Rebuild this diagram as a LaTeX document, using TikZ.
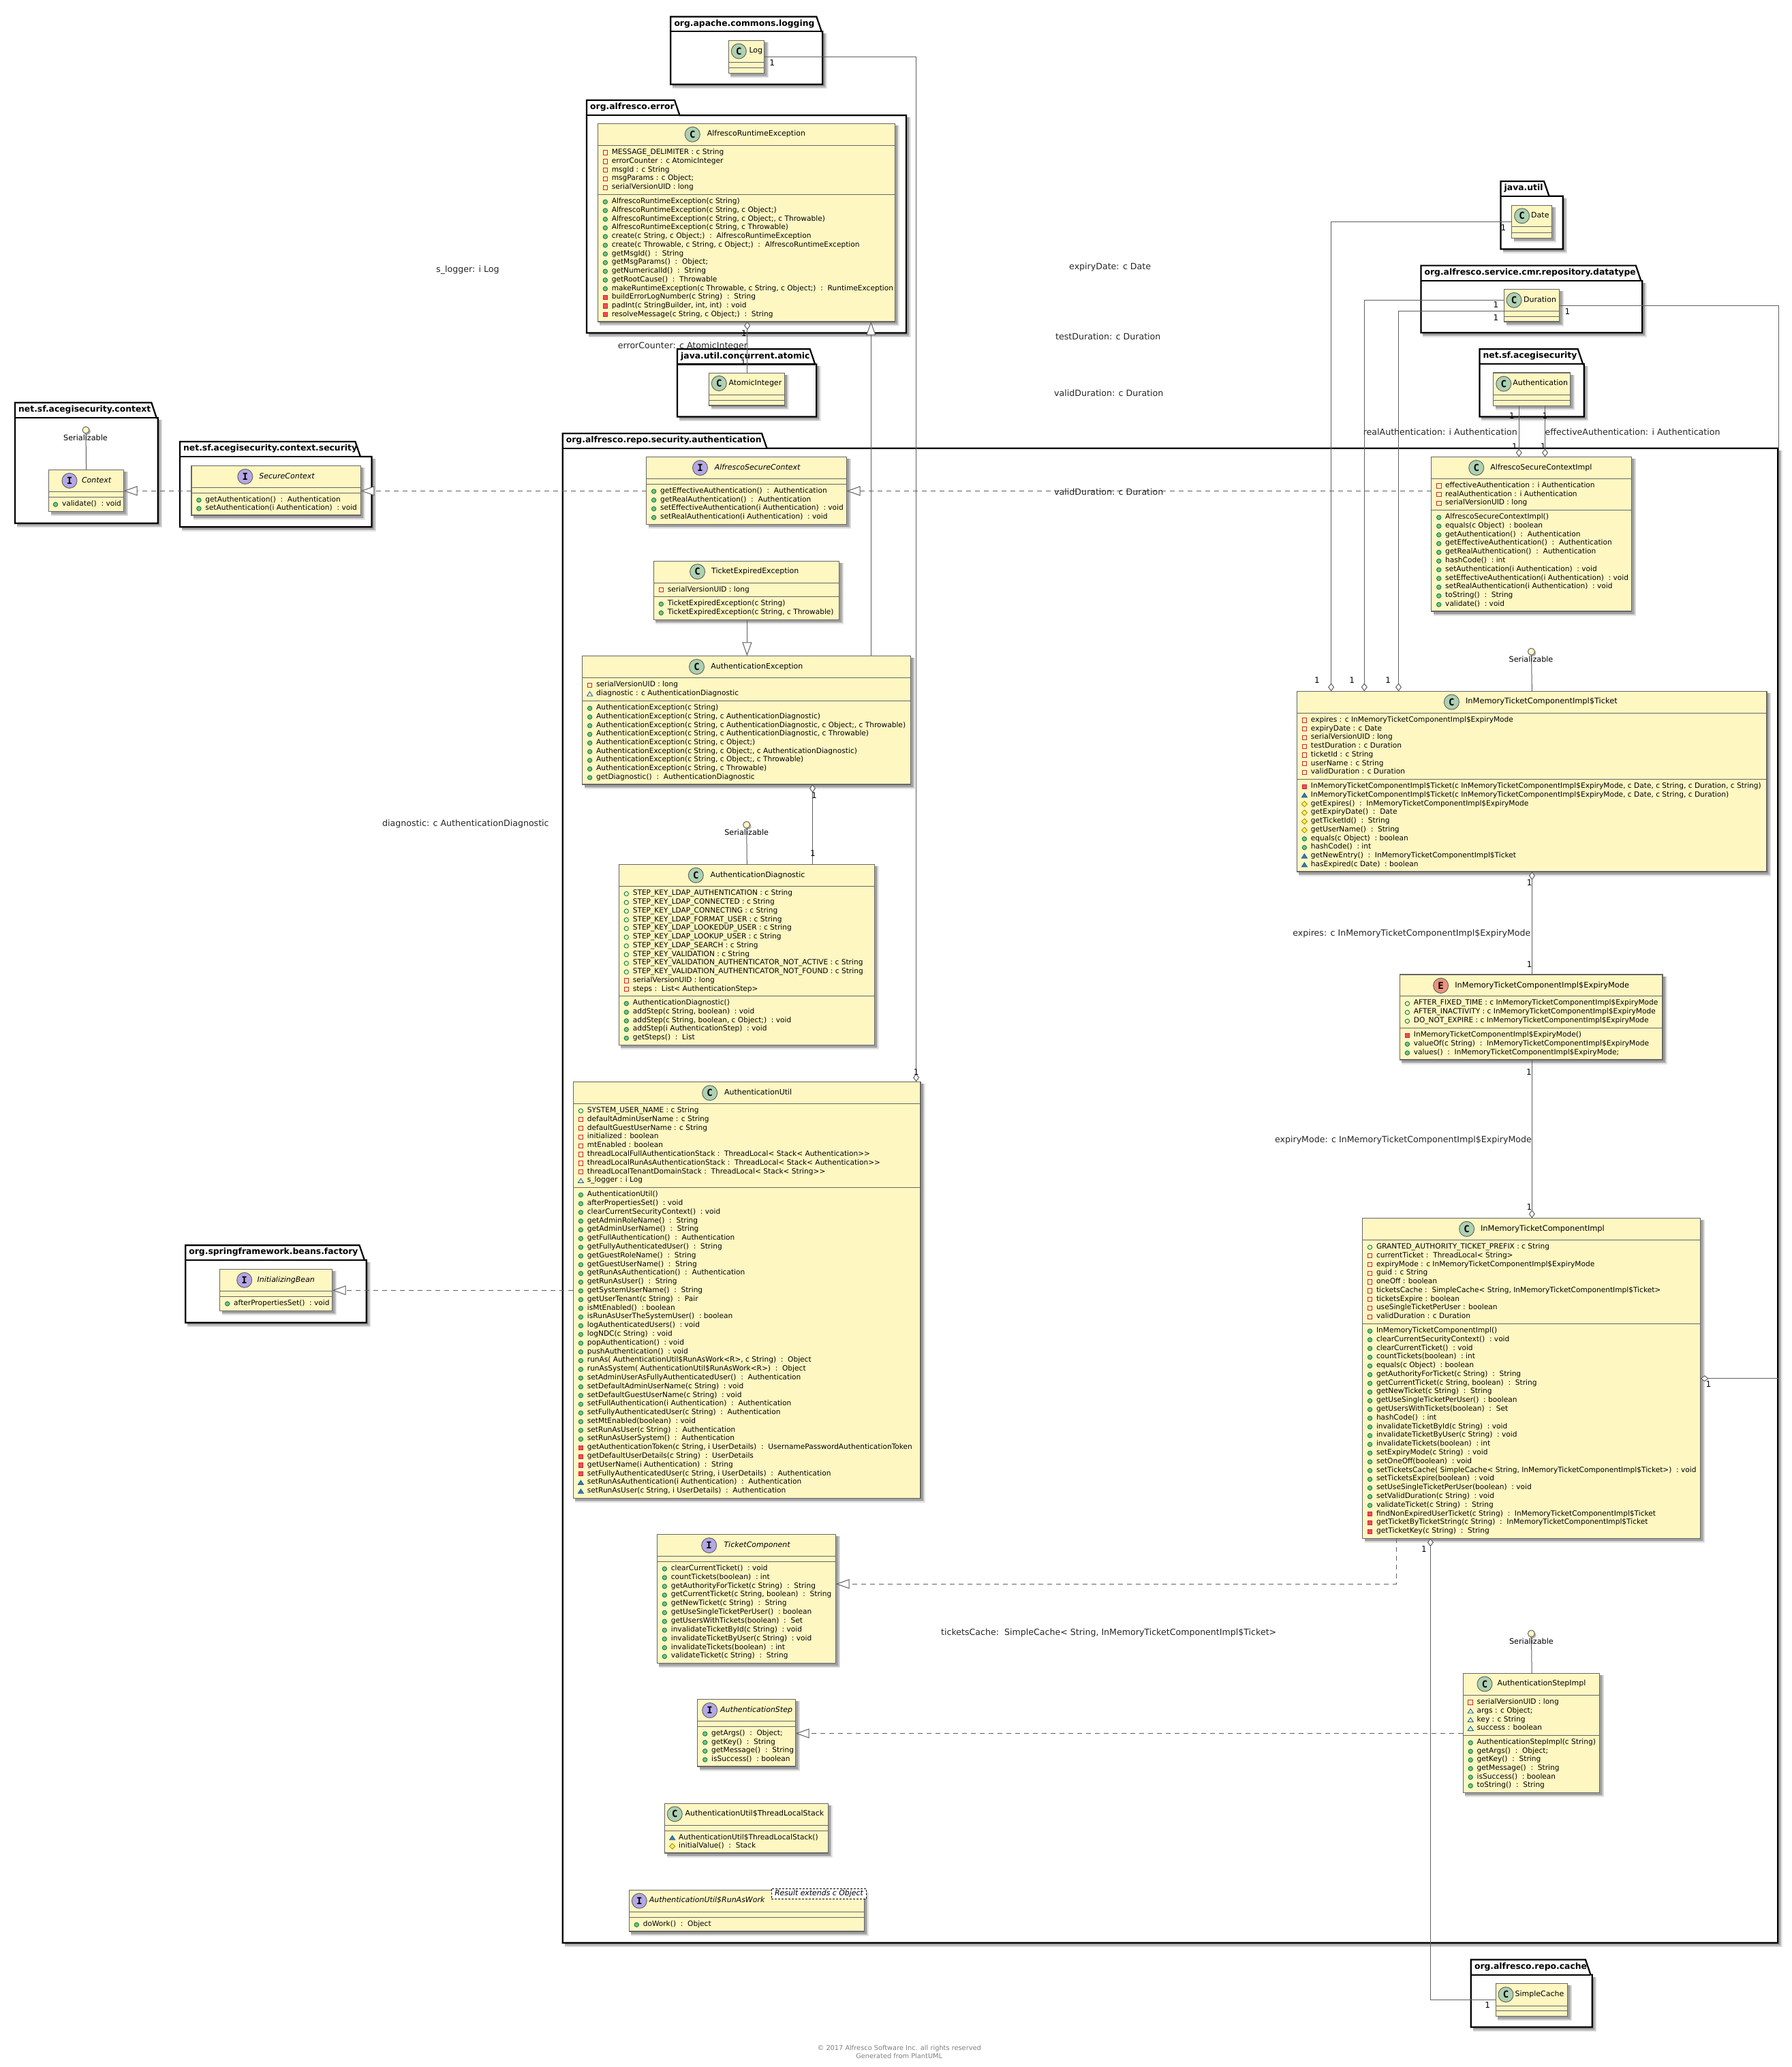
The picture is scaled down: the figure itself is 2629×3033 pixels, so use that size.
\documentclass[tikz,border=0pt]{standalone}
\usepackage{fontspec}
\setmainfont{DejaVu Sans}
\newfontfamily\spotfont{DejaVu Sans Mono}
\usetikzlibrary{arrows.meta}
\definecolor{boxfill}{HTML}{FEF7C2}
\definecolor{boxline}{HTML}{666666}
\definecolor{linegray}{HTML}{5F5F5F}
\definecolor{spotC}{HTML}{ADD1B2}
\definecolor{spotI}{HTML}{B4A7E5}
\definecolor{spotE}{HTML}{EB937F}
\definecolor{icred}{HTML}{C82930}
\definecolor{icredf}{HTML}{F24D5C}
\definecolor{icgreen}{HTML}{038048}
\definecolor{icgreenf}{HTML}{84BE84}
\definecolor{icblue}{HTML}{1963A0}
\definecolor{icbluef}{HTML}{4177AF}
\definecolor{icyel}{HTML}{B38D22}
\definecolor{icyelf}{HTML}{FFFF44}
\newcommand\rowfont{\fontsize{10.6}{12}\selectfont}
\newcommand\titlefont{\fontsize{11}{13}\selectfont}
\newcommand\memfont{\fontsize{11.4}{13}\selectfont}
\newcommand\lblfont{\fontsize{12.6}{14}\selectfont}
\tikzset{
  aggr/.tip={Diamond[length=12pt,width=9pt,fill=white,line width=1pt]},
  gener/.tip={Triangle[length=20pt,width=14pt,fill=white,line width=1pt]},
  assoc/.style={draw=linegray,line width=1pt},
  realz/.style={draw=linegray,line width=1pt,dash pattern=on 7pt off 6pt},
  classbox/.style={draw=boxline,fill=boxfill,line width=1.3pt,inner sep=0,outer sep=0},
  rowtxt/.style={anchor=mid west,inner sep=0,font=\rowfont,text=black},
  titletxt/.style={anchor=mid west,inner sep=0,font=\titlefont,text=black},
  lbl/.style={inner sep=0,font=\lblfont,text=black!85},
  mult/.style={inner sep=0,font=\fontsize{12}{14}\selectfont,text=black},
  serlbl/.style={inner sep=0,font=\fontsize{11.2}{13}\selectfont,text=black},
  lolli/.style={circle,draw=boxline,fill=boxfill,line width=1pt,minimum size=10pt,inner sep=0},
  spot/.style={circle,draw=boxline,line width=1pt,minimum size=22pt,inner sep=0,font=\spotfont\bfseries\fontsize{14}{14}\selectfont},
  pkgline/.style={draw=black,line width=2.2pt,line join=miter},
  pkgtxt/.style={anchor=mid west,inner sep=0,font=\bfseries\fontsize{12.35}{14}\selectfont,text=black},
  foot/.style={inner sep=0,font=\fontsize{9.8}{11}\selectfont,text=black!50},
}
\newcount\rowc
\newcommand\softshadow[4]{%
  \fill[black,opacity=.10] (#1+3,#2+3) rectangle (#3+6.5,#4+6.5);
  \fill[black,opacity=.14] (#1+3,#2+3) rectangle (#3+5,#4+5);
  \fill[black,opacity=.18] (#1+3,#2+3) rectangle (#3+3.5,#4+3.5);
}
% name x1 top tabR bodyTop x2 bottom text
\newcommand\umlpkg[8]{%
  \softshadow{#2}{#5}{#6}{#7}
  \draw[pkgline,fill=white] (#2,#3) -- (#4,#3) -- (#4+7.5,#5) -- (#6,#5) -- (#6,#7) -- (#2,#7) -- cycle;
  \draw[pkgline] (#2,#5) -- (#4+7.5,#5);
  \node[pkgtxt,name=#1] at (#2+5,#3/2+#5/2) {#8};
}
% name x1 y1 x2 y2 hdr div
\newcommand\umlbox[7]{%
  \softshadow{#2}{#3}{#4}{#5}
  \pgfmathsetmacro\bw{#4-#2}\pgfmathsetmacro\bh{#5-#3}
  \node[classbox,minimum width=\bw pt,minimum height=\bh pt,name=#1] at (#2/2+#4/2,#3/2+#5/2) {};
  \draw[draw=boxline,line width=1pt] (#2,#6) -- (#4,#6) (#2,#7) -- (#4,#7);
}
% name letter colour cx cy tx title
\newcommand\umlhead[7]{%
  \node[spot,fill=#3,name=#1-spot] at (#4,#5) {#2};
  \node[titletxt,name=#1-title] at (#6,#5) {#7};
}
\newcommand\startrows[4]{\pgfmathsetmacro\rowP{(#3-#2-8)/#4}\pgfmathsetmacro\rowY{#2+4+\rowP/2}\def\rowX{#1}}
\newcommand\txtrow[1]{\global\advance\rowc by 1
  \node[rowtxt,name=row\the\rowc] at (\rowX+20.3,\rowY) {#1};
  \pgfmathsetmacro\rowY{\rowY+\rowP}}
\newcommand\Fpri[1]{\draw[icred,line width=.9pt] (\rowX+7.7,\rowY-2.9) rectangle (\rowX+14.3,\rowY+3.4); \txtrow{#1}}
\newcommand\Mpri[1]{\draw[icred,fill=icredf,line width=.9pt] (\rowX+7.7,\rowY-2.9) rectangle (\rowX+14.3,\rowY+3.4); \txtrow{#1}}
\newcommand\Fpub[1]{\draw[icgreen,line width=.9pt] (\rowX+11,\rowY+.4) circle (3.2); \txtrow{#1}}
\newcommand\Mpub[1]{\draw[icgreen,fill=icgreenf,line width=.9pt] (\rowX+11,\rowY+.4) circle (3.2); \txtrow{#1}}
\newcommand\Fpkg[1]{\draw[icblue,line width=.9pt] (\rowX+7,\rowY+3.2) -- (\rowX+15,\rowY+3.2) -- (\rowX+11,\rowY-3) -- cycle; \txtrow{#1}}
\newcommand\Mpkg[1]{\draw[icblue,fill=icbluef,line width=.9pt] (\rowX+7,\rowY+3.2) -- (\rowX+15,\rowY+3.2) -- (\rowX+11,\rowY-3) -- cycle; \txtrow{#1}}
\newcommand\Mpro[1]{\draw[icyel,fill=icyelf,line width=.9pt] (\rowX+7,\rowY+.3) -- (\rowX+11,\rowY-3.7) -- (\rowX+15,\rowY+.3) -- (\rowX+11,\rowY+4.3) -- cycle; \txtrow{#1}}
\newcommand\Rt{\ \ :\ \ }
\newcommand\Cl[1]{\ \ :\ #1}
\begin{document}
\begin{tikzpicture}[x=1pt,y=-1pt]
\useasboundingbox (0,0) rectangle (2629,3033);
\fill[white] (0,0) rectangle (2629,3033);
% ---------- packages
\umlpkg{pLog}{984.3}{24.5}{1198.3}{46.2}{1207.3}{123.7}{org.apache.commons.logging}
\umlpkg{pErr}{861}{147}{990}{169.2}{1330}{488.5}{org.alfresco.error}
\umlpkg{pAtom}{994}{512.3}{1188.7}{534.4}{1198.3}{611.5}{java.util.concurrent.atomic}
\umlpkg{pCtx}{22}{590.7}{222.3}{613.3}{231.7}{767.7}{net.sf.acegisecurity.context}
\umlpkg{pSec}{264}{648}{521.4}{670}{545.5}{773.3}{net.sf.acegisecurity.context.security}
\umlpkg{pAuth}{825.7}{636}{1118}{657.7}{2609.3}{2850.7}{org.alfresco.repo.security.authentication}
\umlpkg{pUtil}{2202.5}{265.9}{2266}{287.8}{2293.8}{365.4}{java.util}
\umlpkg{pDt}{2085.4}{389.6}{2400.8}{411.9}{2410.3}{488.2}{org.alfresco.service.cmr.repository.datatype}
\umlpkg{pAce}{2171.4}{512.3}{2315.7}{534.2}{2324.8}{611.4}{net.sf.acegisecurity}
\umlpkg{pCache}{2158.8}{2875.4}{2326.9}{2897.6}{2336.8}{2974.5}{org.alfresco.repo.cache}
\umlpkg{pSpring}{272.2}{1827.3}{527.5}{1849}{537.8}{1940.7}{org.springframework.beans.factory}
% ---------- classes
\umlbox{Log}{1069.3}{59.3}{1121.7}{107.5}{91.7}{99.6}
\umlhead{Log}{C}{spotC}{1084.3}{75.1}{1099.3}{Log}

\umlbox{ARE}{877.3}{181.4}{1313.3}{471.9}{213.4}{285.4}
\umlhead{ARE}{C}{spotC}{1016.3}{197.2}{1037.7}{AlfrescoRuntimeException}
\startrows{877.3}{213.4}{285.4}{5}
\Fpri{MESSAGE\_DELIMITER : c String}
\Fpri{errorCounter : c AtomicInteger}
\Fpri{msgId : c String}
\Fpri{msgParams : c Object;}
\Fpri{serialVersionUID : long}
\startrows{877.3}{285.4}{471.9}{14}
\Mpub{AlfrescoRuntimeException(c String)}
\Mpub{AlfrescoRuntimeException(c String, c Object;)}
\Mpub{AlfrescoRuntimeException(c String, c Object;, c Throwable)}
\Mpub{AlfrescoRuntimeException(c String, c Throwable)}
\Mpub{create(c String, c Object;)\Rt AlfrescoRuntimeException}
\Mpub{create(c Throwable, c String, c Object;)\Rt AlfrescoRuntimeException}
\Mpub{getMsgId()\Rt String}
\Mpub{getMsgParams()\Rt Object;}
\Mpub{getNumericalId()\Rt String}
\Mpub{getRootCause()\Rt Throwable}
\Mpub{makeRuntimeException(c Throwable, c String, c Object;)\Rt RuntimeException}
\Mpri{buildErrorLogNumber(c String)\Rt String}
\Mpri{padInt(c StringBuilder, int, int)\Cl{void}}
\Mpri{resolveMessage(c String, c Object;)\Rt String}

\umlbox{Atomic}{1040.7}{547.4}{1151.3}{594.9}{579}{587.4}
\umlhead{Atomic}{C}{spotC}{1055.3}{562.5}{1069.3}{AtomicInteger}

\umlbox{Context}{71.7}{689.3}{181.5}{750.7}{721.7}{729}
\umlhead{Context}{I}{spotI}{102}{705.3}{119.8}{\itshape Context}
\startrows{70.5}{729}{750.7}{1}
\Mpub{validate()\Cl{void}}

\umlbox{SecCtx}{280.9}{683.3}{529.3}{756}{715.3}{723.3}
\umlhead{SecCtx}{I}{spotI}{359.8}{699.3}{380.2}{\itshape SecureContext}
\startrows{280.9}{723.3}{756}{2}
\Mpub{getAuthentication()\Rt Authentication}
\Mpub{setAuthentication(i Authentication)\Cl{void}}

\umlbox{ASC}{948.6}{670.2}{1242.5}{769.4}{702.4}{710.2}
\umlhead{ASC}{I}{spotI}{1027.5}{686.5}{1048.6}{\itshape AlfrescoSecureContext}
\startrows{948.6}{710.2}{769.4}{4}
\Mpub{getEffectiveAuthentication()\Rt Authentication}
\Mpub{getRealAuthentication()\Rt Authentication}
\Mpub{setEffectiveAuthentication(i Authentication)\Cl{void}}
\Mpub{setRealAuthentication(i Authentication)\Cl{void}}

\umlbox{TEE}{959.3}{823.3}{1231.8}{909.4}{855.5}{875.5}
\umlhead{TEE}{C}{spotC}{1023.6}{838.8}{1044}{TicketExpiredException}
\startrows{959.3}{855.5}{875.5}{1}
\Fpri{serialVersionUID : long}
\startrows{959.3}{875.5}{909.4}{2}
\Mpub{TicketExpiredException(c String)}
\Mpub{TicketExpiredException(c String, c Throwable)}

\umlbox{AuthEx}{854.6}{962.4}{1336.8}{1151}{994.3}{1028.6}
\umlhead{AuthEx}{C}{spotC}{1022.5}{978.4}{1043.2}{AuthenticationException}
\startrows{854.6}{994.3}{1028.6}{2}
\Fpri{serialVersionUID : long}
\Fpkg{diagnostic : c AuthenticationDiagnostic}
\startrows{854.6}{1028.6}{1151}{9}
\Mpub{AuthenticationException(c String)}
\Mpub{AuthenticationException(c String, c AuthenticationDiagnostic)}
\Mpub{AuthenticationException(c String, c AuthenticationDiagnostic, c Object;, c Throwable)}
\Mpub{AuthenticationException(c String, c AuthenticationDiagnostic, c Throwable)}
\Mpub{AuthenticationException(c String, c Object;)}
\Mpub{AuthenticationException(c String, c Object;, c AuthenticationDiagnostic)}
\Mpub{AuthenticationException(c String, c Object;, c Throwable)}
\Mpub{AuthenticationException(c String, c Throwable)}
\Mpub{getDiagnostic()\Rt AuthenticationDiagnostic}

\umlbox{Diag}{908.3}{1268.3}{1283.3}{1533.3}{1300.7}{1461.7}
\umlhead{Diag}{C}{spotC}{1021.3}{1284.3}{1042.3}{AuthenticationDiagnostic}
\startrows{908.3}{1300.7}{1461.7}{12}
\Fpub{STEP\_KEY\_LDAP\_AUTHENTICATION : c String}
\Fpub{STEP\_KEY\_LDAP\_CONNECTED : c String}
\Fpub{STEP\_KEY\_LDAP\_CONNECTING : c String}
\Fpub{STEP\_KEY\_LDAP\_FORMAT\_USER : c String}
\Fpub{STEP\_KEY\_LDAP\_LOOKEDUP\_USER : c String}
\Fpub{STEP\_KEY\_LDAP\_LOOKUP\_USER : c String}
\Fpub{STEP\_KEY\_LDAP\_SEARCH : c String}
\Fpub{STEP\_KEY\_VALIDATION : c String}
\Fpub{STEP\_KEY\_VALIDATION\_AUTHENTICATOR\_NOT\_ACTIVE : c String}
\Fpub{STEP\_KEY\_VALIDATION\_AUTHENTICATOR\_NOT\_FOUND : c String}
\Fpri{serialVersionUID : long}
\Fpri{steps :\ \ List< AuthenticationStep>}
\startrows{908.3}{1461.7}{1533.3}{5}
\Mpub{AuthenticationDiagnostic()}
\Mpub{addStep(c String, boolean)\Cl{void}}
\Mpub{addStep(c String, boolean, c Object;)\Cl{void}}
\Mpub{addStep(i AuthenticationStep)\Cl{void}}
\Mpub{getSteps()\Rt List}

\umlbox{AUtil}{841.4}{1587.3}{1351}{2198.4}{1619.2}{1742.6}
\umlhead{AUtil}{C}{spotC}{1041.7}{1603.7}{1062.8}{AuthenticationUtil}
\startrows{841.4}{1619.2}{1742.6}{9}
\Fpub{SYSTEM\_USER\_NAME : c String}
\Fpri{defaultAdminUserName : c String}
\Fpri{defaultGuestUserName : c String}
\Fpri{initialized : boolean}
\Fpri{mtEnabled : boolean}
\Fpri{threadLocalFullAuthenticationStack :\ \ ThreadLocal< Stack< Authentication>{}>}
\Fpri{threadLocalRunAsAuthenticationStack :\ \ ThreadLocal< Stack< Authentication>{}>}
\Fpri{threadLocalTenantDomainStack :\ \ ThreadLocal< Stack< String>{}>}
\Fpkg{s\_logger : i Log}
\startrows{841.4}{1742.6}{2198.4}{35}
\Mpub{AuthenticationUtil()}
\Mpub{afterPropertiesSet()\Cl{void}}
\Mpub{clearCurrentSecurityContext()\Cl{void}}
\Mpub{getAdminRoleName()\Rt String}
\Mpub{getAdminUserName()\Rt String}
\Mpub{getFullAuthentication()\Rt Authentication}
\Mpub{getFullyAuthenticatedUser()\Rt String}
\Mpub{getGuestRoleName()\Rt String}
\Mpub{getGuestUserName()\Rt String}
\Mpub{getRunAsAuthentication()\Rt Authentication}
\Mpub{getRunAsUser()\Rt String}
\Mpub{getSystemUserName()\Rt String}
\Mpub{getUserTenant(c String)\Rt Pair}
\Mpub{isMtEnabled()\Cl{boolean}}
\Mpub{isRunAsUserTheSystemUser()\Cl{boolean}}
\Mpub{logAuthenticatedUsers()\Cl{void}}
\Mpub{logNDC(c String)\Cl{void}}
\Mpub{popAuthentication()\Cl{void}}
\Mpub{pushAuthentication()\Cl{void}}
\Mpub{runAs( AuthenticationUtil\$RunAsWork<R>, c String)\Rt Object}
\Mpub{runAsSystem( AuthenticationUtil\$RunAsWork<R>)\Rt Object}
\Mpub{setAdminUserAsFullyAuthenticatedUser()\Rt Authentication}
\Mpub{setDefaultAdminUserName(c String)\Cl{void}}
\Mpub{setDefaultGuestUserName(c String)\Cl{void}}
\Mpub{setFullAuthentication(i Authentication)\Rt Authentication}
\Mpub{setFullyAuthenticatedUser(c String)\Rt Authentication}
\Mpub{setMtEnabled(boolean)\Cl{void}}
\Mpub{setRunAsUser(c String)\Rt Authentication}
\Mpub{setRunAsUserSystem()\Rt Authentication}
\Mpri{getAuthenticationToken(c String, i UserDetails)\Rt UsernamePasswordAuthenticationToken}
\Mpri{getDefaultUserDetails(c String)\Rt UserDetails}
\Mpri{getUserName(i Authentication)\Rt String}
\Mpri{setFullyAuthenticatedUser(c String, i UserDetails)\Rt Authentication}
\Mpkg{setRunAsAuthentication(i Authentication)\Rt Authentication}
\Mpkg{setRunAsUser(c String, i UserDetails)\Rt Authentication}

\umlbox{TCmp}{964.3}{2251.2}{1226.7}{2440.6}{2283}{2291.2}
\umlhead{TCmp}{I}{spotI}{1040.7}{2267.6}{1062.3}{\itshape TicketComponent}
\startrows{964.3}{2291.2}{2440.6}{11}
\Mpub{clearCurrentTicket()\Cl{void}}
\Mpub{countTickets(boolean)\Cl{int}}
\Mpub{getAuthorityForTicket(c String)\Rt String}
\Mpub{getCurrentTicket(c String, boolean)\Rt String}
\Mpub{getNewTicket(c String)\Rt String}
\Mpub{getUseSingleTicketPerUser()\Cl{boolean}}
\Mpub{getUsersWithTickets(boolean)\Rt Set}
\Mpub{invalidateTicketById(c String)\Cl{void}}
\Mpub{invalidateTicketByUser(c String)\Cl{void}}
\Mpub{invalidateTickets(boolean)\Cl{int}}
\Mpub{validateTicket(c String)\Rt String}

\umlbox{AStep}{1023.7}{2493.3}{1167.7}{2592}{2525.1}{2533.3}
\umlhead{AStep}{I}{spotI}{1041.7}{2509.6}{1057}{\itshape AuthenticationStep}
\startrows{1023.7}{2533.3}{2592}{4}
\Mpub{getArgs()\Rt Object;}
\Mpub{getKey()\Rt String}
\Mpub{getMessage()\Rt String}
\Mpub{isSuccess()\Cl{boolean}}

\umlbox{TLS}{975.7}{2646.3}{1215.3}{2719}{2678.2}{2686.3}
\umlhead{TLS}{C}{spotC}{990.3}{2661.8}{1005.3}{AuthenticationUtil\$ThreadLocalStack}
\startrows{975.7}{2686.3}{2719}{2}
\Mpkg{AuthenticationUtil\$ThreadLocalStack()}
\Mpro{initialValue()\Rt Stack}

\umlbox{RAW}{923.3}{2773.3}{1268.3}{2834}{2805.5}{2813.7}
\umlhead{RAW}{I}{spotI}{938.3}{2789.2}{952.7}{\itshape AuthenticationUtil\$RunAsWork}
\startrows{923.3}{2813.7}{2834}{1}
\Mpub{doWork()\Rt Object}
\node[draw=black,fill=white,densely dashed,line width=.8pt,inner sep=0,minimum width=139.4pt,minimum height=15.1pt,font=\fontsize{10.9}{12}\selectfont\itshape,name=RAWtpl] at (1202,2778.7) {Result extends c Object};

\umlbox{Date}{2218.8}{301.2}{2277.5}{349.4}{332.9}{341.3}
\umlhead{Date}{C}{spotC}{2233.6}{316.8}{2247}{Date}

\umlbox{Dur}{2207.8}{424.4}{2288.5}{472.1}{456.5}{464.6}
\umlhead{Dur}{C}{spotC}{2222}{440.4}{2236}{Duration}

\umlbox{Authn}{2191.5}{547.1}{2304.7}{595.4}{579.3}{587.8}
\umlhead{Authn}{C}{spotC}{2206.8}{563.2}{2220.2}{Authentication}

\umlbox{ASCI}{2100.7}{670.4}{2394.6}{897.1}{702.5}{748.5}
\umlhead{ASCI}{C}{spotC}{2166.7}{686.4}{2187.2}{AlfrescoSecureContextImpl}
\startrows{2100.7}{702.5}{748.5}{3}
\Fpri{effectiveAuthentication : i Authentication}
\Fpri{realAuthentication : i Authentication}
\Fpri{serialVersionUID : long}
\startrows{2100.7}{748.5}{897.1}{11}
\Mpub{AlfrescoSecureContextImpl()}
\Mpub{equals(c Object)\Cl{boolean}}
\Mpub{getAuthentication()\Rt Authentication}
\Mpub{getEffectiveAuthentication()\Rt Authentication}
\Mpub{getRealAuthentication()\Rt Authentication}
\Mpub{hashCode()\Cl{int}}
\Mpub{setAuthentication(i Authentication)\Cl{void}}
\Mpub{setEffectiveAuthentication(i Authentication)\Cl{void}}
\Mpub{setRealAuthentication(i Authentication)\Cl{void}}
\Mpub{toString()\Rt String}
\Mpub{validate()\Cl{void}}

\umlbox{Ticket}{1903.4}{1014.3}{2592.9}{1279.1}{1046.3}{1143.6}
\umlhead{Ticket}{C}{spotC}{2130.4}{1030.1}{2150.9}{\memfont InMemoryTicketComponentImpl\$Ticket}
\startrows{1903.4}{1046.3}{1143.6}{7}
\Fpri{expires : c InMemoryTicketComponentImpl\$ExpiryMode}
\Fpri{expiryDate : c Date}
\Fpri{serialVersionUID : long}
\Fpri{testDuration : c Duration}
\Fpri{ticketId : c String}
\Fpri{userName : c String}
\Fpri{validDuration : c Duration}
\startrows{1903.4}{1143.6}{1279.1}{10}
\Mpri{InMemoryTicketComponentImpl\$Ticket(c InMemoryTicketComponentImpl\$ExpiryMode, c Date, c String, c Duration, c String)}
\Mpkg{InMemoryTicketComponentImpl\$Ticket(c InMemoryTicketComponentImpl\$ExpiryMode, c Date, c String, c Duration)}
\Mpro{getExpires()\Rt InMemoryTicketComponentImpl\$ExpiryMode}
\Mpro{getExpiryDate()\Rt Date}
\Mpro{getTicketId()\Rt String}
\Mpro{getUserName()\Rt String}
\Mpub{equals(c Object)\Cl{boolean}}
\Mpub{hashCode()\Cl{int}}
\Mpkg{getNewEntry()\Rt InMemoryTicketComponentImpl\$Ticket}
\Mpkg{hasExpired(c Date)\Cl{boolean}}

\umlbox{Expiry}{2054.4}{1430.1}{2440}{1555}{1461.7}{1508.4}
\umlhead{Expiry}{E}{spotE}{2114.6}{1446.3}{2135.1}{\memfont InMemoryTicketComponentImpl\$ExpiryMode}
\startrows{2054.4}{1461.7}{1508.4}{3}
\Fpub{AFTER\_FIXED\_TIME : c InMemoryTicketComponentImpl\$ExpiryMode}
\Fpub{AFTER\_INACTIVITY : c InMemoryTicketComponentImpl\$ExpiryMode}
\Fpub{DO\_NOT\_EXPIRE : c InMemoryTicketComponentImpl\$ExpiryMode}
\startrows{2054.4}{1508.4}{1555}{3}
\Mpri{InMemoryTicketComponentImpl\$ExpiryMode()}
\Mpub{valueOf(c String)\Rt InMemoryTicketComponentImpl\$ExpiryMode}
\Mpub{values()\Rt InMemoryTicketComponentImpl\$ExpiryMode;}

\umlbox{InMem}{1999.5}{1787.3}{2495.7}{2257.3}{1819.3}{1942.3}
\umlhead{InMem}{C}{spotC}{2152.6}{1803.3}{2172.9}{\memfont InMemoryTicketComponentImpl}
\startrows{1999.5}{1819.3}{1942.3}{9}
\Fpub{GRANTED\_AUTHORITY\_TICKET\_PREFIX : c String}
\Fpri{currentTicket :\ \ ThreadLocal< String>}
\Fpri{expiryMode : c InMemoryTicketComponentImpl\$ExpiryMode}
\Fpri{guid : c String}
\Fpri{oneOff : boolean}
\Fpri{ticketsCache :\ \ SimpleCache< String, InMemoryTicketComponentImpl\$Ticket>}
\Fpri{ticketsExpire : boolean}
\Fpri{useSingleTicketPerUser : boolean}
\Fpri{validDuration : c Duration}
\startrows{1999.5}{1942.3}{2257.3}{24}
\Mpub{InMemoryTicketComponentImpl()}
\Mpub{clearCurrentSecurityContext()\Cl{void}}
\Mpub{clearCurrentTicket()\Cl{void}}
\Mpub{countTickets(boolean)\Cl{int}}
\Mpub{equals(c Object)\Cl{boolean}}
\Mpub{getAuthorityForTicket(c String)\Rt String}
\Mpub{getCurrentTicket(c String, boolean)\Rt String}
\Mpub{getNewTicket(c String)\Rt String}
\Mpub{getUseSingleTicketPerUser()\Cl{boolean}}
\Mpub{getUsersWithTickets(boolean)\Rt Set}
\Mpub{hashCode()\Cl{int}}
\Mpub{invalidateTicketById(c String)\Cl{void}}
\Mpub{invalidateTicketByUser(c String)\Cl{void}}
\Mpub{invalidateTickets(boolean)\Cl{int}}
\Mpub{setExpiryMode(c String)\Cl{void}}
\Mpub{setOneOff(boolean)\Cl{void}}
\Mpub{setTicketsCache( SimpleCache< String, InMemoryTicketComponentImpl\$Ticket>)\Cl{void}}
\Mpub{setTicketsExpire(boolean)\Cl{void}}
\Mpub{setUseSingleTicketPerUser(boolean)\Cl{void}}
\Mpub{setValidDuration(c String)\Cl{void}}
\Mpub{validateTicket(c String)\Rt String}
\Mpri{findNonExpiredUserTicket(c String)\Rt InMemoryTicketComponentImpl\$Ticket}
\Mpri{getTicketByTicketString(c String)\Rt InMemoryTicketComponentImpl\$Ticket}
\Mpri{getTicketKey(c String)\Rt String}

\umlbox{ASI}{2147.2}{2455.3}{2347.5}{2630.3}{2487.3}{2546.5}
\umlhead{ASI}{C}{spotC}{2179}{2471}{2197.3}{AuthenticationStepImpl}
\startrows{2147.2}{2487.3}{2546.5}{4}
\Fpri{serialVersionUID : long}
\Fpkg{args : c Object;}
\Fpkg{key : c String}
\Fpkg{success : boolean}
\startrows{2147.2}{2546.5}{2630.3}{6}
\Mpub{AuthenticationStepImpl(c String)}
\Mpub{getArgs()\Rt Object;}
\Mpub{getKey()\Rt String}
\Mpub{getMessage()\Rt String}
\Mpub{isSuccess()\Cl{boolean}}
\Mpub{toString()\Rt String}

\umlbox{Cache}{2195.2}{2910.4}{2300.8}{2958.7}{2943}{2950.8}
\umlhead{Cache}{C}{spotC}{2210}{2926.7}{2223.4}{SimpleCache}

\umlbox{Bean}{322.7}{1862.3}{487.7}{1923.3}{1894.3}{1902}
\umlhead{Bean}{I}{spotI}{358.7}{1878.3}{377.4}{\itshape InitializingBean}
\startrows{322.7}{1902}{1923.3}{1}
\Mpub{afterPropertiesSet()\Cl{void}}
% ---------- lollipops
\fill[black,opacity=.3] (128,633) circle (5);
\node[lolli] (serCtx) at (126,631) {};
\fill[black,opacity=.3] (1097.7,1212.3) circle (5);
\node[lolli] (serDiag) at (1095.7,1210.3) {};
\fill[black,opacity=.3] (2249.4,958.2) circle (5);
\node[lolli] (serTick) at (2247.4,956.2) {};
\fill[black,opacity=.3] (2249.4,2399) circle (5);
\node[lolli] (serStep) at (2247.4,2397) {};
% ---------- connectors
\draw[assoc] (serCtx) -- (126.6,0 |- Context.north);
\draw[assoc] (serDiag) -- (1096.3,0 |- Diag.north);
\draw[assoc] (serTick) -- (2248.4,0 |- Ticket.north);
\draw[assoc] (serStep) -- (2248.2,0 |- ASI.north);

\draw[assoc,-{aggr}] (Log.east |- 0,83.4) -| (1344.6,0 |- AUtil.north);
\draw[assoc,-{aggr}] (1096.7,0 |- Atomic.north) -- (1096.7,0 |- ARE.south);
\draw[assoc,-{gener}] (1278.3,0 |- AuthEx.north) -- (1278.3,0 |- ARE.south);
\draw[assoc,-{gener}] (1096.4,0 |- TEE.south) -- (1096.4,0 |- AuthEx.north);
\draw[assoc,{aggr}-] (1192.5,0 |- AuthEx.south) -- (1192.5,0 |- Diag.north);

\draw[realz,-{gener}] (SecCtx.west |- 0,720.3) -- (Context.east |- 0,720.3);
\draw[realz,-{gener}] (ASC.west |- 0,720.3) -- (SecCtx.east |- 0,720.3);
\draw[realz,-{gener}] (ASCI.west |- 0,720.4) -- (ASC.east |- 0,720.4);
\draw[realz,-{gener}] (AUtil.west |- 0,1893.3) -- (Bean.east |- 0,1893.3);
\draw[realz,-{gener}] (2049.5,0 |- InMem.south) |- (TCmp.east |- 0,2324.2);
\draw[realz,-{gener}] (ASI.west |- 0,2543.5) -- (AStep.east |- 0,2543.5);

\draw[assoc,-{aggr}] (Date.west |- 0,325.3) -| (1953.6,0 |- Ticket.north);
\draw[assoc,-{aggr}] (Dur.west |- 0,440.4) -| (2002.3,0 |- Ticket.north);
\draw[assoc,-{aggr}] (Dur.west |- 0,456.5) -| (2052.5,0 |- Ticket.north);
\draw[assoc] (Dur.east |- 0,448.5) -| (2610.3,2022.7) coordinate (durTurn);
\draw[assoc,-{aggr}] (durTurn) -- (InMem.east |- 0,2022.7);
\draw[assoc,-{aggr}] (2229.3,0 |- Authn.south) -- (2229.3,0 |- ASCI.north);
\draw[assoc,-{aggr}] (2267.5,0 |- Authn.south) -- (2267.5,0 |- ASCI.north);
\draw[assoc,{aggr}-] (2248.4,0 |- Ticket.south) -- (2248.4,0 |- Expiry.north);
\draw[assoc,-{aggr}] (2248.3,0 |- Expiry.south) -- (2248.3,0 |- InMem.north);
\draw[assoc,{aggr}-] (2099.4,0 |- InMem.south) |- (Cache.west |- 0,2934.5);
% ---------- serial labels
\node[serlbl,name=lS1] at (125.5,642.7) {Serializable};
\node[serlbl,name=lS2] at (1095.7,1221.7) {Serializable};
\node[serlbl,name=lS3] at (2247,967.7) {Serializable};
\node[serlbl,name=lS4] at (2247.4,2408.4) {Serializable};
% ---------- role labels
\node[lbl,anchor=mid west,name=l1] at (640,396.6) {s\_logger: i Log};
\node[lbl,anchor=mid west,name=l2] at (906.7,508.3) {errorCounter: c AtomicInteger};
\node[lbl,anchor=mid west,name=l3] at (1569,392.7) {expiryDate: c Date};
\node[lbl,anchor=mid west,name=l4] at (1549,496) {testDuration: c Duration};
\node[lbl,anchor=mid west,name=l5] at (1547,578.4) {validDuration: c Duration};
\node[lbl,anchor=mid west,name=l6] at (1547,723.5) {validDuration: c Duration};
\node[lbl,anchor=mid west,name=l7] at (561,1210) {diagnostic: c AuthenticationDiagnostic};
\node[lbl,anchor=mid east,name=l8] at (2226.9,635.5) {realAuthentication: i Authentication};
\node[lbl,anchor=mid west,name=l9] at (2267.5,635.5) {effectiveAuthentication: i Authentication};
\node[lbl,anchor=mid east,name=l10] at (2246.5,1370.4) {expires: c InMemoryTicketComponentImpl\$ExpiryMode};
\node[lbl,anchor=mid east,name=l11] at (2248,1674) {expiryMode: c InMemoryTicketComponentImpl\$ExpiryMode};
\node[lbl,anchor=mid west,name=l12] at (1381,2397) {ticketsCache:\ \ SimpleCache< String, InMemoryTicketComponentImpl\$Ticket>};
% ---------- multiplicities
\node[mult,name=m1] at (1133.3,92) {1};
\node[mult,name=m2] at (1092,489) {1};
\node[mult,name=m3] at (1091,532.4) {1};
\node[mult,name=m4] at (1195,1167.3) {1};
\node[mult,name=m5] at (1193,1252) {1};
\node[mult,name=m6] at (1344.6,1572.7) {1};
\node[mult,name=m7] at (2206.3,334.6) {1};
\node[mult,name=m8] at (2195.3,447.6) {1};
\node[mult,name=m9] at (2195.3,466.3) {1};
\node[mult,name=m10] at (2300.5,457.4) {1};
\node[mult,name=m11] at (2219,610.5) {1};
\node[mult,name=m12] at (2267.5,610.5) {1};
\node[mult,name=m13] at (2223,655.2) {1};
\node[mult,name=m14] at (2264.6,655.2) {1};
\node[mult,name=m15] at (1933,998.1) {1};
\node[mult,name=m16] at (1984.2,998.1) {1};
\node[mult,name=m17] at (2037.2,998.1) {1};
\node[mult,name=m18] at (2244.6,1295) {1};
\node[mult,name=m19] at (2244.6,1415.1) {1};
\node[mult,name=m20] at (2244,1572.7) {1};
\node[mult,name=m21] at (2244.5,1771) {1};
\node[mult,name=m22] at (2507.3,2030.7) {1};
\node[mult,name=m23] at (2090,2272.7) {1};
\node[mult,name=m24] at (2183.2,2942.4) {1};
% ---------- footer
\node[foot,name=f1] at (1319.7,3006) {© 2017 Alfresco Software Inc. all rights reserved};
\node[foot,name=f2] at (1319.7,3017) {Generated from PlantUML};
\end{tikzpicture}
\end{document}
